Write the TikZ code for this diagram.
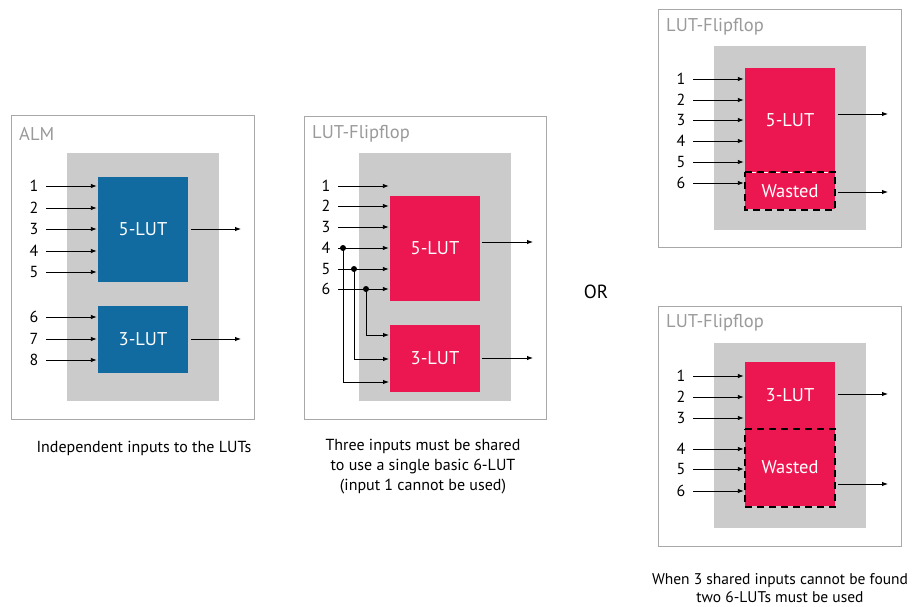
\documentclass[tikz,border=0pt]{standalone}
\usepackage{fontspec}
\setmainfont{PT Sans}
\usetikzlibrary{arrows.meta}
\definecolor{bluelut}{HTML}{126BA0}
\definecolor{redlut}{HTML}{EC1750}
\definecolor{areagray}{HTML}{CBCBCB}
\definecolor{framegray}{HTML}{A8A8A8}
\definecolor{titlegray}{HTML}{9A9A9A}
\tikzset{
  frame/.style={draw=framegray, line width=1pt, fill=white, inner sep=0},
  area/.style={fill=areagray, inner sep=0},
  bluebox/.style={fill=bluelut, text=white, inner sep=0, font=\fontsize{18.5}{21}\selectfont},
  redbox/.style={fill=redlut, text=white, inner sep=0, font=\fontsize{18.5}{21}\selectfont},
  num/.style={inner sep=0, minimum width=24pt, font=\fontsize{16}{18}\selectfont},
  title/.style={anchor=west, inner sep=0, text=titlegray, font=\fontsize{18.5}{21}\selectfont},
  caption/.style={align=center, inner sep=0, font=\fontsize{16}{20}\selectfont},
  arr/.style={line width=0.9pt, -{Latex[length=6pt,width=4.5pt]}},
  wire/.style={line width=0.9pt},
  junction/.style={circle, fill=black, inner sep=0, minimum size=6pt},
  wasted/.style={draw=black, line width=1.6pt, dash pattern=on 7pt off 5pt},
}
\begin{document}
\begin{tikzpicture}[x=1pt,y=-1pt]
\useasboundingbox (0,0) rectangle (916,607);

% ---------------- Left: ALM ----------------
\node[frame, minimum width=243pt, minimum height=303pt] (frameA) at (132.5,267.5) {};
\node[title] (titleA) at (19,134) {ALM};
\node[area, minimum width=152pt, minimum height=248pt] (areaA) at (143,277) {};
\node[bluebox, minimum width=90pt, minimum height=105pt] (a5) at (143,229.5) {5-LUT};
\node[bluebox, minimum width=90pt, minimum height=67pt] (a3) at (143,339.5) {3-LUT};
\foreach \i/\y in {1/186,2/208,3/229,4/251,5/272} {
  \node[num] (an\i) at (34,\y) {\i};
  \draw[arr] (an\i.east) -- ([xshift=-1pt]a5.west |- an\i.east);
}
\foreach \i/\y in {6/317,7/339,8/360} {
  \node[num] (an\i) at (34,\y) {\i};
  \draw[arr] (an\i.east) -- ([xshift=-1pt]a3.west |- an\i.east);
}
\coordinate (aout5) at (241,229);
\coordinate (aout3) at (241,339);
\draw[arr] ([xshift=3pt]a5.east |- aout5) -- (aout5);
\draw[arr] ([xshift=3pt]a3.east |- aout3) -- (aout3);
\node[caption] (capA) at (144,448) {Independent inputs to the LUTs};

% ---------------- Middle: LUT-Flipflop shared ----------------
\node[frame, minimum width=242pt, minimum height=302pt] (frameB) at (425,268) {};
\node[title] (titleB) at (312,134) {LUT-Flipflop};
\node[area, minimum width=152pt, minimum height=248pt] (areaB) at (435,277) {};
\node[redbox, minimum width=90pt, minimum height=105pt] (b5) at (435,248.5) {5-LUT};
\node[redbox, minimum width=90pt, minimum height=67pt] (b3) at (435,358.5) {3-LUT};
\foreach \i/\y in {1/186,2/206,3/227,4/248,5/269,6/289} {
  \node[num] (bn\i) at (326,\y) {\i};
  \draw[arr] (bn\i.east) -- ([xshift=-1pt]b5.west |- bn\i.east);
}
\node[junction] (j4) at (343,248) {};
\node[junction] (j5) at (354,269) {};
\node[junction] (j6) at (366,289) {};
\coordinate (b3in6) at (389,335);
\coordinate (b3in5) at (389,359);
\coordinate (b3in4) at (389,382);
\draw[wire] (j4.center) -- (j4.center |- b3in4);
\draw[arr] (j4.center |- b3in4) -- (b3in4);
\draw[wire] (j5.center) -- (j5.center |- b3in5);
\draw[arr] (j5.center |- b3in5) -- (b3in5);
\draw[wire] (j6.center) -- (j6.center |- b3in6);
\draw[arr] (j6.center |- b3in6) -- (b3in6);
\coordinate (bout5) at (533,242);
\coordinate (bout3) at (533,358);
\draw[arr] ([xshift=2pt]b5.east |- bout5) -- (bout5);
\draw[arr] ([xshift=2pt]b3.east |- bout3) -- (bout3);
\node[caption] (capB) at (423,467) {Three inputs must be shared\\to use a single basic 6-LUT\\(input 1 cannot be used)};

% ---------------- OR ----------------
\node[caption, font=\fontsize{19}{22}\selectfont] (orlabel) at (596,292) {OR};

% ---------------- Top right ----------------
\node[frame, minimum width=243pt, minimum height=237pt] (frameC) at (779.5,128.5) {};
\node[title] (titleC) at (666,27) {LUT-Flipflop};
\node[area, minimum width=152pt, minimum height=184pt] (areaC) at (790,138) {};
\node[redbox, minimum width=90pt, minimum height=105pt] (c5) at (790,120.5) {5-LUT};
\node[redbox, minimum width=90pt, minimum height=36pt] (cw) at (790,191) {Wasted};
\draw[white, line width=0.6pt, dash pattern=on 5pt off 1pt] (cw.north west) -- (cw.north east);
\foreach \i/\y in {1/79,2/100,3/120,4/141,5/162} {
  \node[num] (cn\i) at (681,\y) {\i};
  \draw[arr] (cn\i.east) -- ([xshift=-1pt]c5.west |- cn\i.east);
}
\node[num] (cn6) at (681,183) {6};
\draw[arr] (cn6.east) -- ([xshift=-1pt]cw.west |- cn6.east);
\draw[wasted] ([yshift=1pt]cw.north west) -- ([yshift=1pt]cw.north east) -- ([yshift=-1pt]cw.south east) -- ([yshift=-1pt]cw.south west) -- cycle;
\coordinate (cout5) at (888,114);
\coordinate (coutw) at (888,192);
\draw[arr] ([xshift=3pt]c5.east |- cout5) -- (cout5);
\draw[arr] ([xshift=3pt]cw.east |- coutw) -- (coutw);

% ---------------- Bottom right ----------------
\node[frame, minimum width=243pt, minimum height=240pt] (frameD) at (779.5,426) {};
\node[title] (titleD) at (666,323) {LUT-Flipflop};
\node[area, minimum width=152pt, minimum height=185pt] (areaD) at (790,435.5) {};
\node[redbox, minimum width=90pt, minimum height=67pt] (d3) at (790,395.5) {3-LUT};
\node[redbox, minimum width=90pt, minimum height=77pt] (dw) at (790,467.5) {Wasted};
\foreach \i/\y in {1/376,2/397,3/418} {
  \node[num] (dn\i) at (681,\y) {\i};
  \draw[arr] (dn\i.east) -- ([xshift=-1pt]d3.west |- dn\i.east);
}
\foreach \i/\y in {4/449,5/469,6/491} {
  \node[num] (dn\i) at (681,\y) {\i};
  \draw[arr] (dn\i.east) -- ([xshift=-1pt]dw.west |- dn\i.east);
}
\draw[wasted] (dw.north west) -- (dw.north east) -- ([yshift=-1pt]dw.south east) -- ([yshift=-1pt]dw.south west) -- cycle;
\coordinate (dout3) at (888,394);
\coordinate (doutw) at (888,484);
\draw[arr] ([xshift=3pt]d3.east |- dout3) -- (dout3);
\draw[arr] ([xshift=3pt]dw.east |- doutw) -- (doutw);
\node[caption, font=\fontsize{15.5}{18}\selectfont] (capD) at (780,588) {When 3 shared inputs cannot be found\\two 6-LUTs must be used};
\end{tikzpicture}
\end{document}
